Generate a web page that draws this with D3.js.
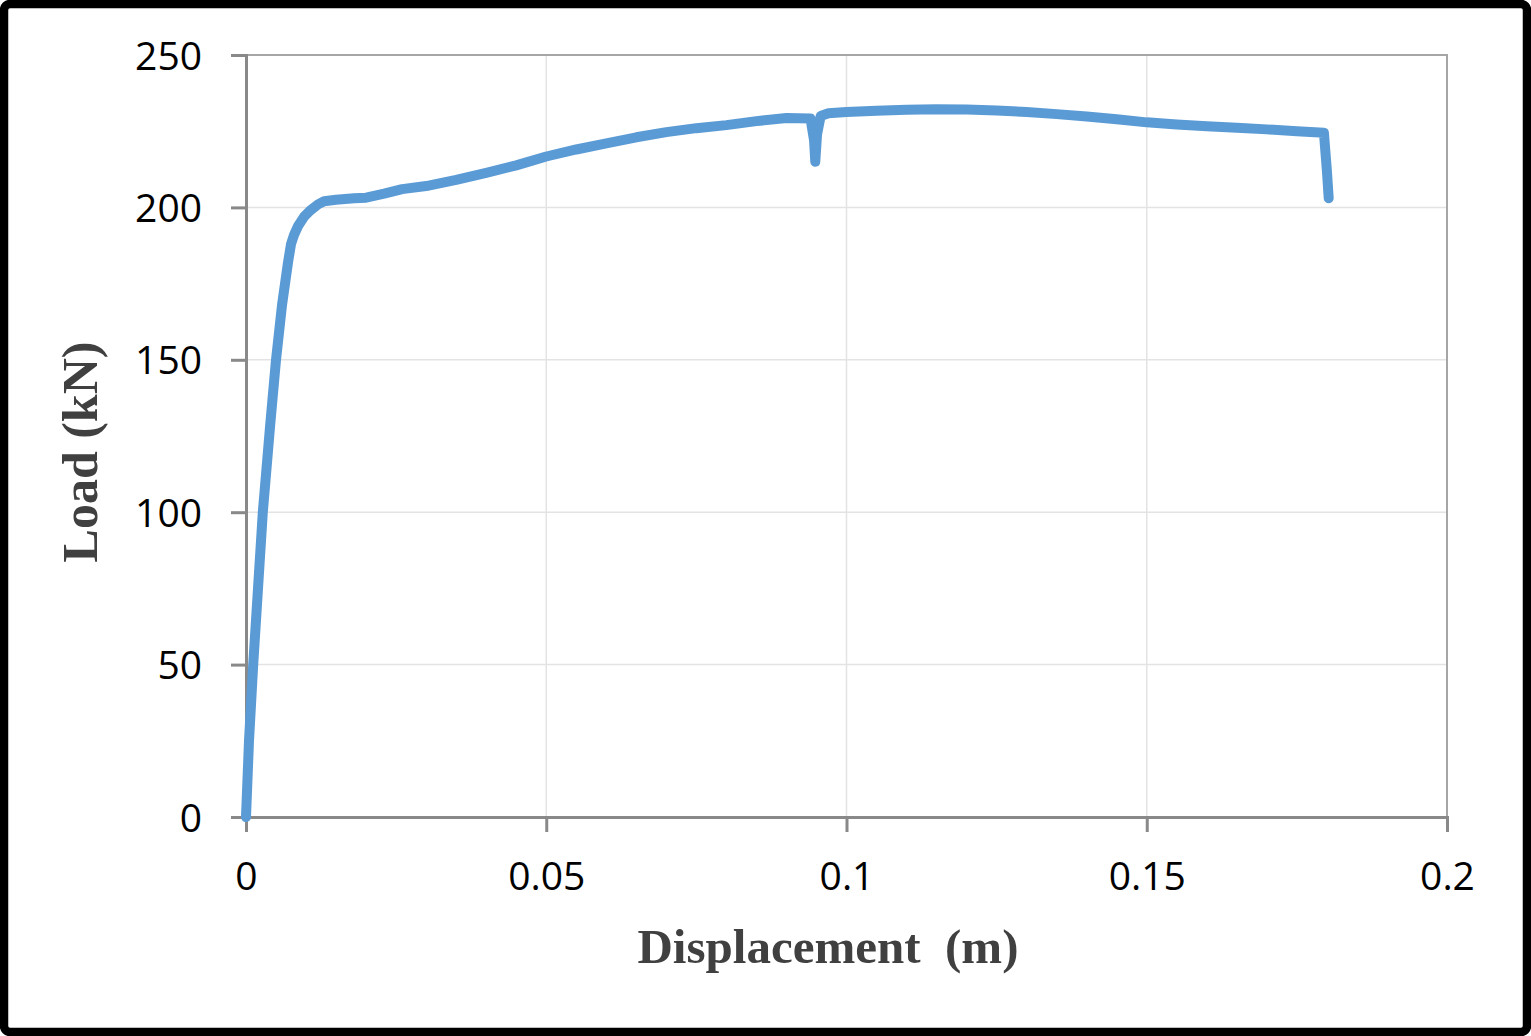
<!DOCTYPE html>
<html>
<head>
<meta charset="utf-8">
<script src="https://cdn.jsdelivr.net/npm/d3@7"></script>
<style>
  body { margin: 0; background: #fff; }
</style>
</head>
<body>
<div id="chart"></div>
<script>
// displacement (m) and load (kN)
var displacement = [0, 0.0005, 0.0012, 0.002, 0.0028, 0.004, 0.005, 0.006, 0.007, 0.0075, 0.008,
  0.0087, 0.0097, 0.0107, 0.012, 0.013, 0.015, 0.018, 0.02, 0.023, 0.026, 0.03, 0.035, 0.04,
  0.045, 0.05, 0.055, 0.06, 0.065, 0.07, 0.075, 0.08, 0.085, 0.09, 0.094, 0.0946, 0.0948,
  0.0951, 0.0957, 0.097, 0.1, 0.105, 0.11, 0.115, 0.12, 0.125, 0.13, 0.135, 0.14, 0.145,
  0.15, 0.155, 0.16, 0.165, 0.17, 0.175, 0.1795, 0.18, 0.1803];
var load = [0, 25, 50, 75, 100, 128, 150, 168, 182, 188, 191,
  194, 197, 199, 201, 202, 202.5, 203, 203.2, 204.5, 206, 207, 209, 211.3,
  213.8, 216.7, 219, 221, 223, 224.7, 226, 227, 228.3, 229.3, 229.2, 222, 215,
  224, 230, 230.9, 231.3, 231.7, 232, 232.2, 232.1, 231.8, 231.3, 230.6, 229.8, 228.9,
  227.9, 227.2, 226.6, 226.1, 225.6, 225, 224.5, 212, 203];

var xTicks = [0, 0.05, 0.1, 0.15, 0.2];
var yTicks = [0, 50, 100, 150, 200, 250];

var W = 1531, H = 1036;
var margin = { top: 55, right: 84, bottom: 219, left: 246 },
  width = W - margin.left - margin.right,
  height = H - margin.top - margin.bottom;

var root = d3.select("#chart").append("svg")
  .attr("width", W)
  .attr("height", H);

// black frame
root.append("rect")
  .attr("x", 4).attr("y", 4)
  .attr("width", W - 8).attr("height", H - 8)
  .attr("rx", 6)
  .attr("fill", "#fff")
  .attr("stroke", "#000")
  .attr("stroke-width", 8.5);

var svg = root.append("g")
  .attr("transform", "translate(" + margin.left + "," + margin.top + ")");

var x = d3.scaleLinear().domain([0, 0.2]).range([0, width]);
var y = d3.scaleLinear().domain([0, 250]).range([height, 0]);

// gridlines
svg.selectAll(".hgrid")
  .data(yTicks.slice(1, -1))
  .enter().append("line")
  .attr("x1", 0).attr("x2", width)
  .attr("y1", function (d) { return y(d); })
  .attr("y2", function (d) { return y(d); })
  .attr("stroke", "#e3e3e3")
  .attr("stroke-width", 1.5);

svg.selectAll(".vgrid")
  .data(xTicks.slice(1, -1))
  .enter().append("line")
  .attr("y1", 0).attr("y2", height)
  .attr("x1", function (d) { return x(d); })
  .attr("x2", function (d) { return x(d); })
  .attr("stroke", "#e3e3e3")
  .attr("stroke-width", 1.5);

// plot area top / right border
svg.append("path")
  .attr("d", "M0,0H" + width + "V" + height)
  .attr("fill", "none")
  .attr("stroke", "#a6a6a6")
  .attr("stroke-width", 2);

// axes
var xAxis = svg.append("g")
  .attr("transform", "translate(0," + height + ")")
  .call(d3.axisBottom(x).tickValues(xTicks).tickSize(15).tickPadding(30)
    .tickFormat(function (d) { return d3.format("")(d); }));

var yAxis = svg.append("g")
  .call(d3.axisLeft(y).tickValues(yTicks).tickSize(15).tickPadding(29));

[xAxis, yAxis].forEach(function (a) {
  a.select(".domain").attr("stroke", "#898989").attr("stroke-width", 3);
  a.selectAll(".tick line").attr("stroke", "#898989").attr("stroke-width", 3);
  a.selectAll(".tick text")
    .attr("fill", "#000")
    .style("font-family", "'Open Sans', sans-serif")
    .style("font-size", "39px");
});
yAxis.selectAll(".tick text").attr("dy", "0.36em");
xAxis.selectAll(".tick text").attr("dy", "0.71em");

// the curve
var pts = displacement.map(function (d, i) { return [d, load[i]]; });
svg.append("path")
  .datum(pts)
  .attr("fill", "none")
  .attr("stroke", "#5b9bd5")
  .attr("stroke-width", 10)
  .attr("stroke-linejoin", "round")
  .attr("stroke-linecap", "round")
  .attr("d", d3.line()
    .x(function (d) { return x(d[0]); })
    .y(function (d) { return y(d[1]); }));

// axis titles
root.append("text")
  .attr("x", 828)
  .attr("y", 963)
  .attr("text-anchor", "middle")
  .attr("fill", "#404040")
  .style("font-family", "'Liberation Serif', 'Times New Roman', serif")
  .style("font-weight", "bold")
  .style("font-size", "49px")
  .style("white-space", "pre")
  .text("Displacement  (m)");

root.append("text")
  .attr("transform", "translate(97,452) rotate(-90)")
  .attr("text-anchor", "middle")
  .attr("fill", "#404040")
  .style("font-family", "'Liberation Serif', 'Times New Roman', serif")
  .style("font-weight", "bold")
  .style("font-size", "50px")
  .text("Load (kN)");
</script>
</body>
</html>
